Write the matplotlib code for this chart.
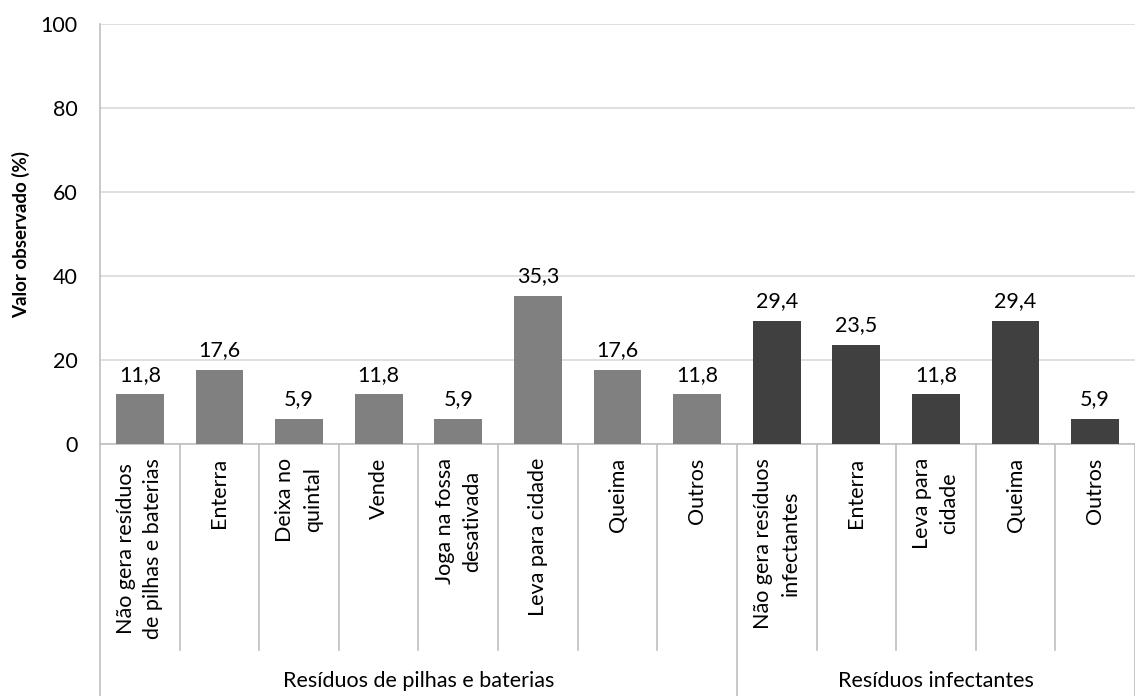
import matplotlib
matplotlib.use('Agg')
from matplotlib import pyplot as plt
from matplotlib import transforms

plt.rcParams['font.family'] = ['Lato', 'DejaVu Sans']

categories = ['Não gera resíduos\nde pilhas e baterias', 'Enterra', 'Deixa no\nquintal', 'Vende',
              'Joga na fossa\ndesativada', 'Leva para cidade', 'Queima', 'Outros',
              'Não gera resíduos\ninfectantes', 'Enterra', 'Leva para\ncidade', 'Queima', 'Outros']
values = [11.8, 17.6, 5.9, 11.8, 5.9, 35.3, 17.6, 11.8, 29.4, 23.5, 11.8, 29.4, 5.9]
groups = ['Resíduos de pilhas e baterias', 'Resíduos infectantes']
group_sizes = [8, 5]
group_colors = ['#808080', '#404040']

colors = []
for g, n in enumerate(group_sizes):
    colors += [group_colors[g]] * n

fig = plt.figure(figsize=(11.35, 6.96), dpi=100)
ax = fig.add_axes([100/1135, 252/696, 1035/1135, 420/696])

x = list(range(len(values)))
ax.bar(x, values, width=0.6, color=colors, zorder=3)
for i, v in enumerate(values):
    ax.annotate(f'{v:.1f}'.replace('.', ','), (i, v), xytext=(0, 7), textcoords='offset points',
                ha='center', va='bottom', fontsize=15.5)

ax.set_xlim(-0.5, len(values) - 0.5)
ax.set_ylim(0, 100)
ax.set_yticks([0, 20, 40, 60, 80, 100])
ax.tick_params(axis='y', length=0, labelsize=15.5, pad=16)
ax.set_xticks([])
ax.grid(axis='y', color='#d9d9d9', linewidth=1.2, zorder=0)
for s in ['top', 'right']:
    ax.spines[s].set_visible(False)
ax.spines['left'].set_color('#bfbfbf')
ax.spines['bottom'].set_color('#bfbfbf')
ax.spines['left'].set_linewidth(1.2)
ax.spines['bottom'].set_linewidth(1.2)
ax.set_ylabel('Valor observado (%)', fontsize=13.5, fontweight='bold')
ax.yaxis.set_label_coords(-70 / 1035, 0.5)

trans = transforms.blended_transform_factory(ax.transData, ax.transAxes)
px = 1 / 420
# category labels
for i, c in enumerate(categories):
    ax.text(i, -14 * px, c, rotation=90, ha='center', va='top', multialignment='center',
            fontsize=15.5, transform=trans, linespacing=1.45)

# separators
group_edges = [-0.5]
for n in group_sizes:
    group_edges.append(group_edges[-1] + n)
for k in range(len(values) + 1):
    xe = k - 0.5
    y_end = -252 * px if xe in group_edges else -206 * px
    ax.plot([xe, xe], [0, y_end], color='#bfbfbf', linewidth=1.2, transform=trans, clip_on=False)

# group labels
for g, name in enumerate(groups):
    xc = (group_edges[g] + group_edges[g + 1]) / 2
    ax.text(xc, -237 * px, name, ha='center', va='center', fontsize=15.5, transform=trans)

fig.savefig('out.png', dpi=100)
